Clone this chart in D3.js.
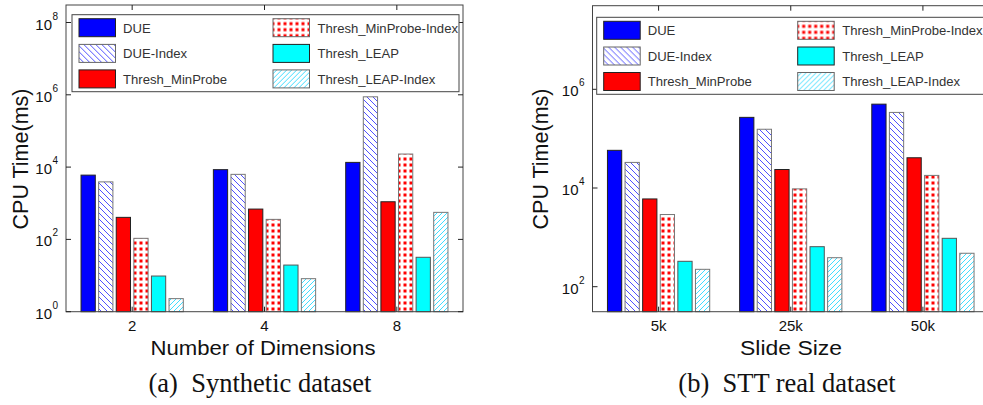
<!DOCTYPE html>
<html>
<head>
<meta charset="utf-8">
<script src="https://cdn.jsdelivr.net/npm/d3@7/dist/d3.min.js"></script>
<style>
  html, body { margin: 0; padding: 0; background: #fff; }
  svg { display: block; }
  text { font-family: "Liberation Sans", Arial, sans-serif; }
</style>
</head>
<body>
<svg id="chart" width="983" height="405"></svg>
<script>
// ---------------- data ----------------
const seriesNames = ["DUE", "DUE-Index", "Thresh_MinProbe", "Thresh_MinProbe-Index", "Thresh_LEAP", "Thresh_LEAP-Index"];

// (a) Synthetic dataset
const catsA = ["2", "4", "8"];
const dueA = [6000, 8500, 13500];
const dueIdxA = [3900, 6300, 880000];
const minProbeA = [407, 690, 1100];
const minProbeIdxA = [107, 358, 23000];
const leapA = [9.7, 19.5, 32];
const leapIdxA = [2.3, 8.2, 560];
const ticksA = [1e0, 1e2, 1e4, 1e6, 1e8];

// (b) STT real dataset
const catsB = ["5k", "25k", "50k"];
const dueB = [58000, 270000, 500000];
const dueIdxB = [33000, 155000, 340000];
const minProbeB = [6000, 23700, 41000];
const minProbeIdxB = [2900, 9600, 18000];
const leapB = [327, 647, 956];
const leapIdxB = [225, 387, 476];
const ticksB = [1e2, 1e4, 1e6];

// ---------------- styles ----------------
const fills = ["#0000ff", "url(#pDiagBlue)", "#ff0000", "url(#pDots)", "#00ffff", "url(#pDiagCyan)"];
const strokes = ["#222", "#777", "#222", "#777", "#555", "#777"];

const svg = d3.select("#chart");
const defs = svg.append("defs");

// blue "\" hatch
const p1 = defs.append("pattern").attr("id", "pDiagBlue").attr("patternUnits", "userSpaceOnUse")
  .attr("width", 6).attr("height", 6);
p1.append("rect").attr("width", 6).attr("height", 6).attr("fill", "#fff");
p1.append("path").attr("d", "M0,0 L6,6 M-1,5 L1,7 M5,-1 L7,1").attr("stroke", "#5050ff").attr("stroke-width", 1);

// cyan "/" hatch
const p2 = defs.append("pattern").attr("id", "pDiagCyan").attr("patternUnits", "userSpaceOnUse")
  .attr("width", 5).attr("height", 5);
p2.append("rect").attr("width", 5).attr("height", 5).attr("fill", "#fff");
p2.append("path").attr("d", "M0,5 L5,0 M-1,1 L1,-1 M4,6 L6,4").attr("stroke", "#40ddff").attr("stroke-width", 1);

// red dots
const p3 = defs.append("pattern").attr("id", "pDots").attr("patternUnits", "userSpaceOnUse")
  .attr("width", 6).attr("height", 6);
p3.append("rect").attr("width", 6).attr("height", 6).attr("fill", "#fff");
p3.append("rect").attr("x", 1.5).attr("y", 1.5).attr("width", 3).attr("height", 3).attr("fill", "#ff0000");

function drawPanel(opt) {
  const { cats, values, ticks, left, right, top, bottom, yRef, legendX, legendY } = opt;
  const g = svg.append("g");

  const y = d3.scaleLog().domain([yRef[0].v, yRef[1].v]).range([yRef[0].y, yRef[1].y]);

  const x0 = d3.scaleBand().domain(cats).range([left, right]).padding(0);
  const inner = 105.6;
  const x1 = d3.scaleBand().domain(seriesNames)
    .range([(x0.bandwidth() - inner) / 2, (x0.bandwidth() + inner) / 2])
    .paddingInner(0.19).paddingOuter(0.095);

  // bars
  cats.forEach((c, ci) => {
    seriesNames.forEach((s, si) => {
      const v = values[si][ci];
      g.append("rect")
        .attr("x", x0(c) + x1(s))
        .attr("y", y(v))
        .attr("width", x1.bandwidth())
        .attr("height", bottom - y(v))
        .attr("fill", fills[si])
        .attr("stroke", strokes[si])
        .attr("stroke-width", 1);
    });
  });

  // frame
  g.append("rect").attr("x", left).attr("y", top).attr("width", right - left).attr("height", bottom - top)
    .attr("fill", "none").attr("stroke", "#444").attr("stroke-width", 1);

  // y ticks (inside, both sides)
  ticks.forEach(t => {
    const ty = y(t);
    g.append("line").attr("x1", left).attr("x2", left + 5).attr("y1", ty).attr("y2", ty).attr("stroke", "#222");
    g.append("line").attr("x1", right).attr("x2", right - 5).attr("y1", ty).attr("y2", ty).attr("stroke", "#222");
    const exp = Math.round(Math.log10(t));
    g.append("text").attr("x", left - 14).attr("y", ty + 7).attr("text-anchor", "end")
      .attr("font-size", 15).attr("fill", "#111").text("10");
    g.append("text").attr("x", left - 13.5).attr("y", ty - 3).attr("text-anchor", "start")
      .attr("font-size", 10).attr("fill", "#111").text(exp);
  });

  // x ticks (inside, top and bottom) + labels
  cats.forEach(c => {
    const tx = x0(c) + x0.bandwidth() / 2;
    g.append("line").attr("x1", tx).attr("x2", tx).attr("y1", bottom).attr("y2", bottom - 5).attr("stroke", "#222");
    g.append("line").attr("x1", tx).attr("x2", tx).attr("y1", top).attr("y2", top + 5).attr("stroke", "#222");
    g.append("text").attr("x", tx).attr("y", bottom + 19).attr("text-anchor", "middle")
      .attr("font-size", 15).attr("fill", "#111").text(c);
  });

  // axis labels
  g.append("text").attr("transform", `translate(${opt.yLabelX},159) rotate(-90)`).attr("text-anchor", "middle")
    .attr("font-size", 21.5).attr("fill", "#111").text("CPU Time(ms)");
  g.append("text").attr("x", opt.xLabelX).attr("y", 355)
    .attr("text-anchor", "middle").attr("font-size", 20).attr("fill", "#111")
    .attr("textLength", opt.xLabelLen).attr("lengthAdjust", "spacingAndGlyphs").text(opt.xLabel);

  // caption
  g.append("text").attr("x", opt.captionX).attr("y", 392).attr("text-anchor", "middle")
    .style("font-family", "'Liberation Serif', 'Times New Roman', serif")
    .attr("font-size", 26.5).attr("fill", "#111")
    .style("white-space", "pre").text(opt.caption);

  // legend
  const lg = g.append("g").attr("transform", `translate(${legendX},${legendY})`);
  lg.append("rect").attr("width", 387).attr("height", 77).attr("fill", "#fff").attr("stroke", "#444");
  const colSw = [7, 201], colTx = [51, 245.5], rowY = [4, 29.7, 55.2];
  seriesNames.forEach((s, i) => {
    const col = Math.floor(i / 3), row = i % 3;
    lg.append("rect").attr("x", colSw[col]).attr("y", rowY[row]).attr("width", 36.5).attr("height", 18)
      .attr("fill", fills[i]).attr("stroke", strokes[i] === "#777" ? "#666" : "#222");
    lg.append("text").attr("x", colTx[col]).attr("y", rowY[row] + 14).attr("font-size", 13.1)
      .attr("fill", "#333").text(s);
  });
}

drawPanel({
  cats: catsA,
  values: [dueA, dueIdxA, minProbeA, minProbeIdxA, leapA, leapIdxA],
  ticks: ticksA,
  left: 66, right: 463, top: 5, bottom: 311.7,
  yRef: [{ v: 1e0, y: 311.7 }, { v: 1e8, y: 22.5 }],
  legendX: 72, legendY: 14.7,
  xLabel: "Number of Dimensions", xLabelX: 263, xLabelLen: 225,
  caption: "(a)  Synthetic dataset", captionX: 260,
  yLabelX: 28
});

drawPanel({
  cats: catsB,
  values: [dueB, dueIdxB, minProbeB, minProbeIdxB, leapB, leapIdxB],
  ticks: ticksB,
  left: 592.5, right: 989, top: 5.7, bottom: 311.7,
  yRef: [{ v: 1e2, y: 286.7 }, { v: 1e6, y: 89.3 }],
  legendX: 596.7, legendY: 17.3,
  xLabel: "Slide Size", xLabelX: 791, xLabelLen: 102,
  caption: "(b)  STT real dataset", captionX: 787,
  yLabelX: 548
});
</script>
</body>
</html>
